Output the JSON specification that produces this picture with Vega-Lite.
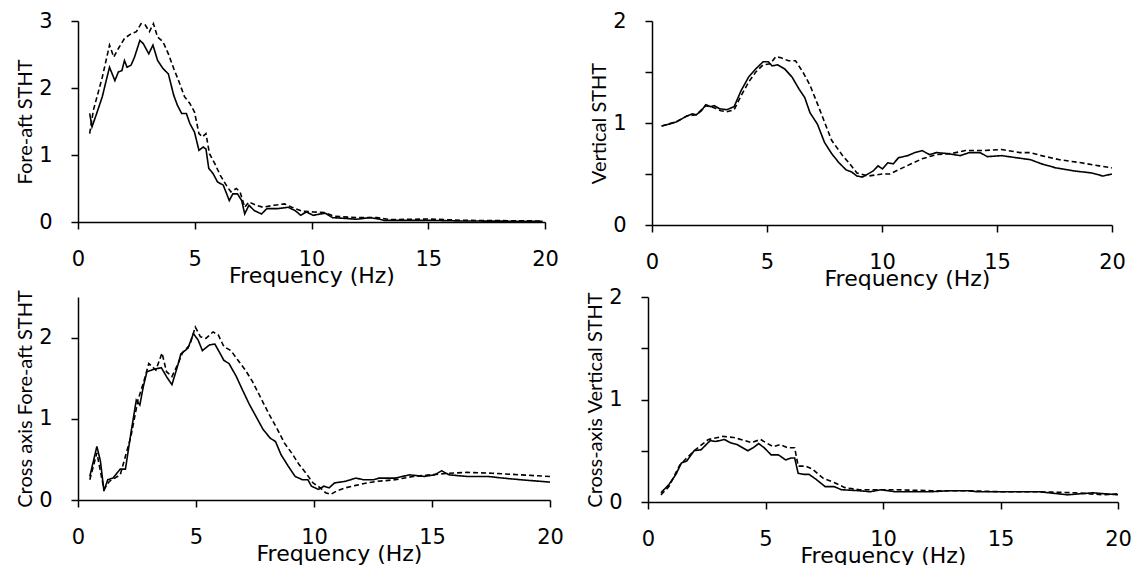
{
"$schema": "https://vega.github.io/schema/vega-lite/v6.json",
"padding": {"left": 15, "top": 10, "right": 5, "bottom": 5},
"background": "white",
"config": {
  "view": {"stroke": null},
  "axis": {"grid": false, "domainColor": "black", "domainWidth": 1.5, "tickColor": "black", "tickWidth": 1.5, "tickSize": 7, "labelColor": "black", "labelFont": "DejaVu Sans", "labelFontSize": 21, "labelFlush": false, "labelOverlap": false, "titleColor": "black", "titleFontWeight": "normal"},
  "axisX": {"labelPadding": 19, "titleFont": "DejaVu Sans", "titleFontSize": 22, "titlePadding": -4},
  "axisY": {"labelPadding": 19, "titleFont": "Lato", "titleFontSize": 20, "titlePadding": 3}
},
"datasets": {
  "tl": [
    {"f":0.5,"v":1.62,"s":"solid"},{"f":0.6,"v":1.42,"s":"solid"},{"f":0.8,"v":1.62,"s":"solid"},{"f":1.04,"v":1.87,"s":"solid"},{"f":1.2,"v":2.1,"s":"solid"},{"f":1.35,"v":2.31,"s":"solid"},{"f":1.58,"v":2.11,"s":"solid"},{"f":1.73,"v":2.24,"s":"solid"},{"f":1.88,"v":2.26,"s":"solid"},{"f":1.99,"v":2.41,"s":"solid"},{"f":2.1,"v":2.31,"s":"solid"},{"f":2.27,"v":2.34,"s":"solid"},{"f":2.42,"v":2.46,"s":"solid"},{"f":2.65,"v":2.71,"s":"solid"},{"f":2.8,"v":2.66,"s":"solid"},{"f":3.03,"v":2.51,"s":"solid"},{"f":3.21,"v":2.64,"s":"solid"},{"f":3.41,"v":2.41,"s":"solid"},{"f":3.64,"v":2.29,"s":"solid"},{"f":3.87,"v":2.21,"s":"solid"},{"f":4.1,"v":1.89,"s":"solid"},{"f":4.26,"v":1.74,"s":"solid"},{"f":4.44,"v":1.62,"s":"solid"},{"f":4.64,"v":1.62,"s":"solid"},{"f":4.79,"v":1.47,"s":"solid"},{"f":4.99,"v":1.34,"s":"solid"},{"f":5.18,"v":1.07,"s":"solid"},{"f":5.36,"v":1.12,"s":"solid"},{"f":5.48,"v":1.09,"s":"solid"},{"f":5.6,"v":0.8,"s":"solid"},{"f":5.79,"v":0.72,"s":"solid"},{"f":5.97,"v":0.6,"s":"solid"},{"f":6.22,"v":0.55,"s":"solid"},{"f":6.48,"v":0.32,"s":"solid"},{"f":6.63,"v":0.42,"s":"solid"},{"f":6.83,"v":0.42,"s":"solid"},{"f":7.01,"v":0.32,"s":"solid"},{"f":7.14,"v":0.12,"s":"solid"},{"f":7.32,"v":0.25,"s":"solid"},{"f":7.55,"v":0.17,"s":"solid"},{"f":7.86,"v":0.12,"s":"solid"},{"f":8.09,"v":0.2,"s":"solid"},{"f":8.55,"v":0.2,"s":"solid"},{"f":9.0,"v":0.22,"s":"solid"},{"f":9.3,"v":0.17,"s":"solid"},{"f":9.54,"v":0.1,"s":"solid"},{"f":9.77,"v":0.15,"s":"solid"},{"f":10.08,"v":0.1,"s":"solid"},{"f":10.38,"v":0.12,"s":"solid"},{"f":10.6,"v":0.13,"s":"solid"},{"f":10.9,"v":0.065,"s":"solid"},{"f":11.6,"v":0.05,"s":"solid"},{"f":11.9,"v":0.04,"s":"solid"},{"f":12.5,"v":0.065,"s":"solid"},{"f":12.8,"v":0.05,"s":"solid"},{"f":13.1,"v":0.025,"s":"solid"},{"f":15,"v":0.025,"s":"solid"},{"f":16.5,"v":0.015,"s":"solid"},{"f":19.9,"v":0.01,"s":"solid"},
    {"f":0.5,"v":1.32,"s":"dashed"},{"f":0.66,"v":1.67,"s":"dashed"},{"f":1.04,"v":2.16,"s":"dashed"},{"f":1.35,"v":2.64,"s":"dashed"},{"f":1.53,"v":2.46,"s":"dashed"},{"f":1.73,"v":2.59,"s":"dashed"},{"f":1.99,"v":2.74,"s":"dashed"},{"f":2.27,"v":2.81,"s":"dashed"},{"f":2.5,"v":2.84,"s":"dashed"},{"f":2.7,"v":2.96,"s":"dashed"},{"f":2.88,"v":2.94,"s":"dashed"},{"f":3.06,"v":2.84,"s":"dashed"},{"f":3.23,"v":2.96,"s":"dashed"},{"f":3.41,"v":2.76,"s":"dashed"},{"f":3.64,"v":2.69,"s":"dashed"},{"f":3.87,"v":2.51,"s":"dashed"},{"f":4.1,"v":2.29,"s":"dashed"},{"f":4.33,"v":2.09,"s":"dashed"},{"f":4.56,"v":1.87,"s":"dashed"},{"f":4.79,"v":1.77,"s":"dashed"},{"f":4.99,"v":1.64,"s":"dashed"},{"f":5.18,"v":1.32,"s":"dashed"},{"f":5.33,"v":1.27,"s":"dashed"},{"f":5.48,"v":1.32,"s":"dashed"},{"f":5.63,"v":1.02,"s":"dashed"},{"f":5.86,"v":0.87,"s":"dashed"},{"f":6.09,"v":0.7,"s":"dashed"},{"f":6.4,"v":0.52,"s":"dashed"},{"f":6.55,"v":0.45,"s":"dashed"},{"f":6.78,"v":0.5,"s":"dashed"},{"f":6.94,"v":0.45,"s":"dashed"},{"f":7.14,"v":0.22,"s":"dashed"},{"f":7.32,"v":0.3,"s":"dashed"},{"f":7.62,"v":0.25,"s":"dashed"},{"f":7.93,"v":0.22,"s":"dashed"},{"f":8.39,"v":0.25,"s":"dashed"},{"f":8.85,"v":0.27,"s":"dashed"},{"f":9.16,"v":0.22,"s":"dashed"},{"f":9.62,"v":0.16,"s":"dashed"},{"f":10.08,"v":0.15,"s":"dashed"},{"f":10.54,"v":0.14,"s":"dashed"},{"f":11.0,"v":0.085,"s":"dashed"},{"f":11.9,"v":0.065,"s":"dashed"},{"f":12.8,"v":0.065,"s":"dashed"},{"f":13.4,"v":0.035,"s":"dashed"},{"f":15,"v":0.045,"s":"dashed"},{"f":16.5,"v":0.025,"s":"dashed"},{"f":19.9,"v":0.015,"s":"dashed"}
  ],
  "tr": [
    {"f":0.42,"v":0.97,"s":"solid"},{"f":1.05,"v":1.01,"s":"solid"},{"f":1.53,"v":1.07,"s":"solid"},{"f":1.76,"v":1.09,"s":"solid"},{"f":1.92,"v":1.08,"s":"solid"},{"f":2.15,"v":1.12,"s":"solid"},{"f":2.34,"v":1.18,"s":"solid"},{"f":2.55,"v":1.16,"s":"solid"},{"f":2.7,"v":1.17,"s":"solid"},{"f":2.94,"v":1.14,"s":"solid"},{"f":3.25,"v":1.13,"s":"solid"},{"f":3.57,"v":1.16,"s":"solid"},{"f":3.88,"v":1.32,"s":"solid"},{"f":4.2,"v":1.45,"s":"solid"},{"f":4.51,"v":1.53,"s":"solid"},{"f":4.83,"v":1.6,"s":"solid"},{"f":5.06,"v":1.6,"s":"solid"},{"f":5.22,"v":1.56,"s":"solid"},{"f":5.46,"v":1.57,"s":"solid"},{"f":5.77,"v":1.53,"s":"solid"},{"f":6.09,"v":1.45,"s":"solid"},{"f":6.4,"v":1.33,"s":"solid"},{"f":6.64,"v":1.25,"s":"solid"},{"f":6.87,"v":1.1,"s":"solid"},{"f":7.19,"v":0.99,"s":"solid"},{"f":7.5,"v":0.81,"s":"solid"},{"f":7.81,"v":0.7,"s":"solid"},{"f":8.13,"v":0.61,"s":"solid"},{"f":8.44,"v":0.54,"s":"solid"},{"f":8.68,"v":0.52,"s":"solid"},{"f":8.91,"v":0.48,"s":"solid"},{"f":9.15,"v":0.47,"s":"solid"},{"f":9.39,"v":0.5,"s":"solid"},{"f":9.62,"v":0.53,"s":"solid"},{"f":9.83,"v":0.58,"s":"solid"},{"f":10.02,"v":0.55,"s":"solid"},{"f":10.25,"v":0.61,"s":"solid"},{"f":10.49,"v":0.6,"s":"solid"},{"f":10.72,"v":0.66,"s":"solid"},{"f":11.12,"v":0.68,"s":"solid"},{"f":11.43,"v":0.71,"s":"solid"},{"f":11.75,"v":0.73,"s":"solid"},{"f":12.06,"v":0.69,"s":"solid"},{"f":12.37,"v":0.71,"s":"solid"},{"f":12.85,"v":0.7,"s":"solid"},{"f":13.4,"v":0.68,"s":"solid"},{"f":13.8,"v":0.71,"s":"solid"},{"f":14.26,"v":0.71,"s":"solid"},{"f":14.58,"v":0.67,"s":"solid"},{"f":15.2,"v":0.68,"s":"solid"},{"f":15.83,"v":0.66,"s":"solid"},{"f":16.46,"v":0.64,"s":"solid"},{"f":16.93,"v":0.6,"s":"solid"},{"f":17.56,"v":0.56,"s":"solid"},{"f":18.35,"v":0.53,"s":"solid"},{"f":19.13,"v":0.51,"s":"solid"},{"f":19.6,"v":0.48,"s":"solid"},{"f":20,"v":0.5,"s":"solid"},
    {"f":0.42,"v":0.97,"s":"dashed"},{"f":1.05,"v":1.01,"s":"dashed"},{"f":1.53,"v":1.07,"s":"dashed"},{"f":1.92,"v":1.08,"s":"dashed"},{"f":2.34,"v":1.17,"s":"dashed"},{"f":2.7,"v":1.15,"s":"dashed"},{"f":3.0,"v":1.12,"s":"dashed"},{"f":3.25,"v":1.11,"s":"dashed"},{"f":3.57,"v":1.13,"s":"dashed"},{"f":3.88,"v":1.27,"s":"dashed"},{"f":4.2,"v":1.4,"s":"dashed"},{"f":4.51,"v":1.5,"s":"dashed"},{"f":4.83,"v":1.57,"s":"dashed"},{"f":5.14,"v":1.58,"s":"dashed"},{"f":5.38,"v":1.65,"s":"dashed"},{"f":5.61,"v":1.64,"s":"dashed"},{"f":5.93,"v":1.61,"s":"dashed"},{"f":6.24,"v":1.61,"s":"dashed"},{"f":6.56,"v":1.5,"s":"dashed"},{"f":6.87,"v":1.37,"s":"dashed"},{"f":7.19,"v":1.19,"s":"dashed"},{"f":7.5,"v":1.01,"s":"dashed"},{"f":7.81,"v":0.83,"s":"dashed"},{"f":8.29,"v":0.68,"s":"dashed"},{"f":8.6,"v":0.6,"s":"dashed"},{"f":8.91,"v":0.51,"s":"dashed"},{"f":9.39,"v":0.48,"s":"dashed"},{"f":10.02,"v":0.5,"s":"dashed"},{"f":10.33,"v":0.5,"s":"dashed"},{"f":10.8,"v":0.55,"s":"dashed"},{"f":11.27,"v":0.6,"s":"dashed"},{"f":11.75,"v":0.65,"s":"dashed"},{"f":12.37,"v":0.69,"s":"dashed"},{"f":13.0,"v":0.7,"s":"dashed"},{"f":13.63,"v":0.73,"s":"dashed"},{"f":14.4,"v":0.73,"s":"dashed"},{"f":15.2,"v":0.74,"s":"dashed"},{"f":15.99,"v":0.71,"s":"dashed"},{"f":16.46,"v":0.71,"s":"dashed"},{"f":16.93,"v":0.68,"s":"dashed"},{"f":17.72,"v":0.64,"s":"dashed"},{"f":18.66,"v":0.61,"s":"dashed"},{"f":19.45,"v":0.58,"s":"dashed"},{"f":20,"v":0.56,"s":"dashed"}
  ],
  "bl": [
    {"f":0.5,"v":0.29,"s":"solid"},{"f":0.8,"v":0.66,"s":"solid"},{"f":0.95,"v":0.48,"s":"solid"},{"f":1.1,"v":0.11,"s":"solid"},{"f":1.26,"v":0.25,"s":"solid"},{"f":1.48,"v":0.27,"s":"solid"},{"f":1.79,"v":0.38,"s":"solid"},{"f":2.01,"v":0.38,"s":"solid"},{"f":2.24,"v":0.82,"s":"solid"},{"f":2.47,"v":1.23,"s":"solid"},{"f":2.62,"v":1.17,"s":"solid"},{"f":2.77,"v":1.4,"s":"solid"},{"f":2.92,"v":1.58,"s":"solid"},{"f":3.22,"v":1.61,"s":"solid"},{"f":3.53,"v":1.63,"s":"solid"},{"f":3.75,"v":1.52,"s":"solid"},{"f":3.98,"v":1.42,"s":"solid"},{"f":4.21,"v":1.64,"s":"solid"},{"f":4.36,"v":1.8,"s":"solid"},{"f":4.66,"v":1.87,"s":"solid"},{"f":4.89,"v":2.05,"s":"solid"},{"f":5.09,"v":1.97,"s":"solid"},{"f":5.27,"v":1.84,"s":"solid"},{"f":5.57,"v":1.91,"s":"solid"},{"f":5.8,"v":1.92,"s":"solid"},{"f":6.03,"v":1.8,"s":"solid"},{"f":6.18,"v":1.72,"s":"solid"},{"f":6.4,"v":1.68,"s":"solid"},{"f":6.71,"v":1.52,"s":"solid"},{"f":6.93,"v":1.38,"s":"solid"},{"f":7.24,"v":1.19,"s":"solid"},{"f":7.54,"v":1.03,"s":"solid"},{"f":7.84,"v":0.87,"s":"solid"},{"f":8.15,"v":0.76,"s":"solid"},{"f":8.37,"v":0.72,"s":"solid"},{"f":8.6,"v":0.56,"s":"solid"},{"f":8.9,"v":0.42,"s":"solid"},{"f":9.2,"v":0.29,"s":"solid"},{"f":9.51,"v":0.25,"s":"solid"},{"f":9.74,"v":0.25,"s":"solid"},{"f":9.89,"v":0.17,"s":"solid"},{"f":10.19,"v":0.13,"s":"solid"},{"f":10.42,"v":0.17,"s":"solid"},{"f":10.64,"v":0.15,"s":"solid"},{"f":10.87,"v":0.21,"s":"solid"},{"f":11.33,"v":0.23,"s":"solid"},{"f":11.78,"v":0.27,"s":"solid"},{"f":12.08,"v":0.25,"s":"solid"},{"f":12.54,"v":0.25,"s":"solid"},{"f":12.76,"v":0.27,"s":"solid"},{"f":13.44,"v":0.27,"s":"solid"},{"f":14.05,"v":0.31,"s":"solid"},{"f":14.66,"v":0.29,"s":"solid"},{"f":15.11,"v":0.31,"s":"solid"},{"f":15.41,"v":0.36,"s":"solid"},{"f":15.72,"v":0.31,"s":"solid"},{"f":16.47,"v":0.29,"s":"solid"},{"f":17.38,"v":0.29,"s":"solid"},{"f":17.99,"v":0.27,"s":"solid"},{"f":18.74,"v":0.25,"s":"solid"},{"f":20,"v":0.22,"s":"solid"},
    {"f":0.5,"v":0.25,"s":"dashed"},{"f":0.8,"v":0.58,"s":"dashed"},{"f":1.1,"v":0.13,"s":"dashed"},{"f":1.33,"v":0.23,"s":"dashed"},{"f":1.79,"v":0.31,"s":"dashed"},{"f":2.24,"v":0.78,"s":"dashed"},{"f":2.54,"v":1.23,"s":"dashed"},{"f":2.77,"v":1.44,"s":"dashed"},{"f":3.0,"v":1.68,"s":"dashed"},{"f":3.3,"v":1.6,"s":"dashed"},{"f":3.56,"v":1.81,"s":"dashed"},{"f":3.75,"v":1.58,"s":"dashed"},{"f":3.98,"v":1.52,"s":"dashed"},{"f":4.21,"v":1.66,"s":"dashed"},{"f":4.44,"v":1.82,"s":"dashed"},{"f":4.74,"v":1.91,"s":"dashed"},{"f":4.97,"v":2.13,"s":"dashed"},{"f":5.19,"v":2.01,"s":"dashed"},{"f":5.42,"v":1.99,"s":"dashed"},{"f":5.72,"v":2.07,"s":"dashed"},{"f":5.95,"v":2.03,"s":"dashed"},{"f":6.18,"v":1.89,"s":"dashed"},{"f":6.48,"v":1.84,"s":"dashed"},{"f":6.78,"v":1.72,"s":"dashed"},{"f":7.09,"v":1.6,"s":"dashed"},{"f":7.39,"v":1.46,"s":"dashed"},{"f":7.69,"v":1.29,"s":"dashed"},{"f":8.07,"v":1.07,"s":"dashed"},{"f":8.45,"v":0.87,"s":"dashed"},{"f":8.75,"v":0.7,"s":"dashed"},{"f":9.05,"v":0.58,"s":"dashed"},{"f":9.36,"v":0.44,"s":"dashed"},{"f":9.66,"v":0.33,"s":"dashed"},{"f":9.96,"v":0.21,"s":"dashed"},{"f":10.27,"v":0.15,"s":"dashed"},{"f":10.49,"v":0.09,"s":"dashed"},{"f":10.72,"v":0.07,"s":"dashed"},{"f":10.95,"v":0.11,"s":"dashed"},{"f":11.33,"v":0.15,"s":"dashed"},{"f":11.78,"v":0.18,"s":"dashed"},{"f":12.23,"v":0.21,"s":"dashed"},{"f":12.69,"v":0.23,"s":"dashed"},{"f":13.44,"v":0.25,"s":"dashed"},{"f":14.2,"v":0.29,"s":"dashed"},{"f":14.96,"v":0.31,"s":"dashed"},{"f":15.72,"v":0.33,"s":"dashed"},{"f":16.47,"v":0.34,"s":"dashed"},{"f":17.53,"v":0.33,"s":"dashed"},{"f":18.74,"v":0.31,"s":"dashed"},{"f":20,"v":0.29,"s":"dashed"}
  ],
  "br": [
    {"f":0.55,"v":0.09,"s":"solid"},{"f":0.89,"v":0.17,"s":"solid"},{"f":1.19,"v":0.27,"s":"solid"},{"f":1.42,"v":0.38,"s":"solid"},{"f":1.65,"v":0.4,"s":"solid"},{"f":1.96,"v":0.5,"s":"solid"},{"f":2.26,"v":0.51,"s":"solid"},{"f":2.65,"v":0.6,"s":"solid"},{"f":2.87,"v":0.59,"s":"solid"},{"f":3.26,"v":0.61,"s":"solid"},{"f":3.49,"v":0.58,"s":"solid"},{"f":3.79,"v":0.56,"s":"solid"},{"f":4.25,"v":0.5,"s":"solid"},{"f":4.48,"v":0.53,"s":"solid"},{"f":4.71,"v":0.57,"s":"solid"},{"f":4.94,"v":0.53,"s":"solid"},{"f":5.24,"v":0.46,"s":"solid"},{"f":5.55,"v":0.46,"s":"solid"},{"f":5.86,"v":0.41,"s":"solid"},{"f":6.09,"v":0.43,"s":"solid"},{"f":6.24,"v":0.43,"s":"solid"},{"f":6.39,"v":0.28,"s":"solid"},{"f":6.62,"v":0.27,"s":"solid"},{"f":6.85,"v":0.27,"s":"solid"},{"f":7.16,"v":0.22,"s":"solid"},{"f":7.54,"v":0.15,"s":"solid"},{"f":7.92,"v":0.15,"s":"solid"},{"f":8.23,"v":0.12,"s":"solid"},{"f":8.99,"v":0.11,"s":"solid"},{"f":9.45,"v":0.1,"s":"solid"},{"f":9.91,"v":0.12,"s":"solid"},{"f":10.52,"v":0.1,"s":"solid"},{"f":12.05,"v":0.1,"s":"solid"},{"f":12.81,"v":0.11,"s":"solid"},{"f":13.58,"v":0.11,"s":"solid"},{"f":14.04,"v":0.1,"s":"solid"},{"f":15.1,"v":0.1,"s":"solid"},{"f":16.64,"v":0.1,"s":"solid"},{"f":17.86,"v":0.07,"s":"solid"},{"f":18.93,"v":0.09,"s":"solid"},{"f":20,"v":0.07,"s":"solid"},
    {"f":0.55,"v":0.07,"s":"dashed"},{"f":0.89,"v":0.15,"s":"dashed"},{"f":1.35,"v":0.36,"s":"dashed"},{"f":1.96,"v":0.5,"s":"dashed"},{"f":2.57,"v":0.61,"s":"dashed"},{"f":3.18,"v":0.64,"s":"dashed"},{"f":3.64,"v":0.63,"s":"dashed"},{"f":4.1,"v":0.6,"s":"dashed"},{"f":4.4,"v":0.58,"s":"dashed"},{"f":4.79,"v":0.61,"s":"dashed"},{"f":5.09,"v":0.57,"s":"dashed"},{"f":5.32,"v":0.54,"s":"dashed"},{"f":5.63,"v":0.56,"s":"dashed"},{"f":5.93,"v":0.53,"s":"dashed"},{"f":6.24,"v":0.53,"s":"dashed"},{"f":6.39,"v":0.35,"s":"dashed"},{"f":6.7,"v":0.35,"s":"dashed"},{"f":7.0,"v":0.32,"s":"dashed"},{"f":7.46,"v":0.23,"s":"dashed"},{"f":7.92,"v":0.19,"s":"dashed"},{"f":8.38,"v":0.14,"s":"dashed"},{"f":8.99,"v":0.12,"s":"dashed"},{"f":10.52,"v":0.12,"s":"dashed"},{"f":12.05,"v":0.11,"s":"dashed"},{"f":13.58,"v":0.11,"s":"dashed"},{"f":15.1,"v":0.1,"s":"dashed"},{"f":16.64,"v":0.1,"s":"dashed"},{"f":18.17,"v":0.09,"s":"dashed"},{"f":19.39,"v":0.07,"s":"dashed"},{"f":20,"v":0.08,"s":"dashed"}
  ]
},
"vconcat": [
  {
    "hconcat": [
      {
        "width": 467, "height": 201,
        "data": {"name": "tl"},
        "mark": {"type": "line", "color": "black", "strokeWidth": 1.6},
        "encoding": {
          "x": {"field": "f", "type": "quantitative", "scale": {"domain": [0, 20], "nice": false}, "axis": {"values": [0, 5, 10, 15, 20], "title": "Frequency (Hz)"}},
          "y": {"field": "v", "type": "quantitative", "scale": {"domain": [0, 3], "nice": false}, "axis": {"values": [0, 1, 2, 3], "title": "Fore-aft STHT"}},
          "strokeDash": {"field": "s", "type": "nominal", "scale": {"domain": ["solid", "dashed"], "range": [[1, 0], [5, 3]]}, "legend": null}
        }
      },
      {
        "width": 460, "height": 204,
        "data": {"name": "tr"},
        "mark": {"type": "line", "color": "black", "strokeWidth": 1.6},
        "encoding": {
          "x": {"field": "f", "type": "quantitative", "scale": {"domain": [0, 20], "nice": false}, "axis": {"values": [0, 5, 10, 15, 20], "title": "Frequency (Hz)", "titleX": 255}},
          "y": {"field": "v", "type": "quantitative", "scale": {"domain": [0, 2], "nice": false}, "axis": {"values": [0, 0.5, 1, 1.5, 2], "labelExpr": "datum.value % 1 === 0 ? '' + datum.value : ''", "title": "Vertical STHT"}},
          "strokeDash": {"field": "s", "type": "nominal", "scale": {"domain": ["solid", "dashed"], "range": [[1, 0], [5, 3]]}, "legend": null}
        }
      }
    ],
    "spacing": 107,
    "bounds": "flush"
  },
  {
    "hconcat": [
      {
        "width": 472, "height": 203,
        "data": {"name": "bl"},
        "mark": {"type": "line", "color": "black", "strokeWidth": 1.6},
        "encoding": {
          "x": {"field": "f", "type": "quantitative", "scale": {"domain": [0, 20], "nice": false}, "axis": {"values": [0, 5, 10, 15, 20], "title": "Frequency (Hz)", "titleX": 261}},
          "y": {"field": "v", "type": "quantitative", "scale": {"domain": [0, 2.5], "nice": false}, "axis": {"values": [0, 1, 2], "title": "Cross axis Fore-aft STHT"}},
          "strokeDash": {"field": "s", "type": "nominal", "scale": {"domain": ["solid", "dashed"], "range": [[1, 0], [5, 3]]}, "legend": null}
        }
      },
      {
        "width": 470, "height": 205,
        "data": {"name": "br"},
        "mark": {"type": "line", "color": "black", "strokeWidth": 1.6},
        "encoding": {
          "x": {"field": "f", "type": "quantitative", "scale": {"domain": [0, 20], "nice": false}, "axis": {"values": [0, 5, 10, 15, 20], "title": "Frequency (Hz)"}},
          "y": {"field": "v", "type": "quantitative", "scale": {"domain": [0, 2], "nice": false}, "axis": {"values": [0, 0.5, 1, 1.5, 2], "labelExpr": "datum.value % 1 === 0 ? '' + datum.value : ''", "title": "Cross-axis Vertical STHT"}},
          "strokeDash": {"field": "s", "type": "nominal", "scale": {"domain": ["solid", "dashed"], "range": [[1, 0], [5, 3]]}, "legend": null}
        }
      }
    ],
    "spacing": 98,
    "bounds": "flush"
  }
],
"spacing": -3
}
